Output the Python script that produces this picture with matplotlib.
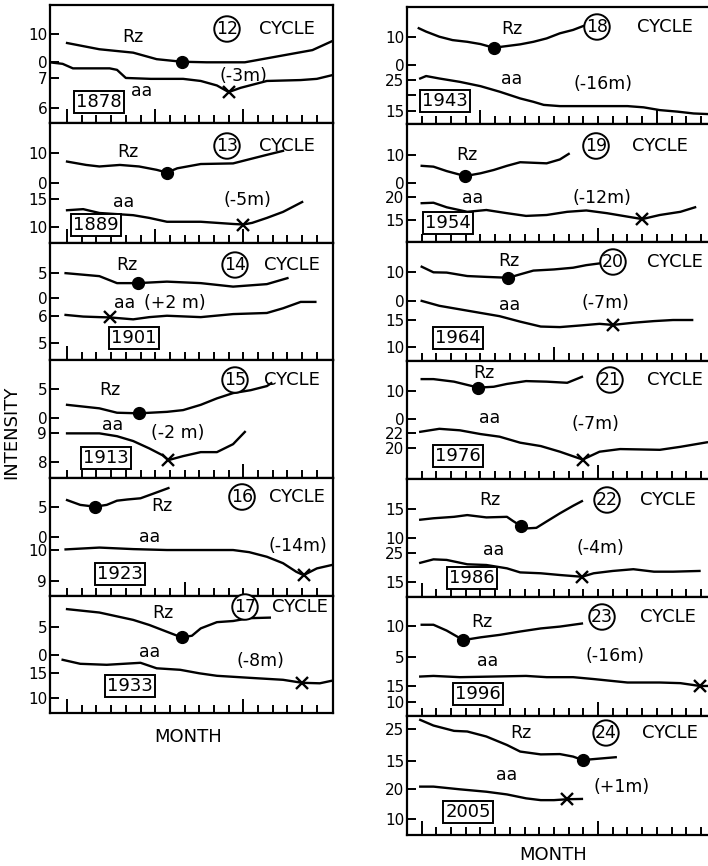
import matplotlib.pyplot as plt

# figure size in pixels (dpi 100)
W, H = 708, 866

# ---- data (x = month index along the bottom ticks) ----
cycles = [12, 13, 14, 15, 16, 17, 18, 19, 20, 21, 22, 23, 24]
years = ['1878', '1889', '1901', '1913', '1923', '1933',
         '1943', '1954', '1964', '1976', '1986', '1996', '2005']
lags = ['(-3m)', '(-5m)', '(+2 m)', '(-2 m)', '(-14m)', '(-8m)',
        '(-16m)', '(-12m)', '(-7m)', '(-7m)', '(-4m)', '(-16m)', '(+1m)']

rz_month = [
    [0, 2.2, 4.5, 6.1, 7.8, 9.5, 12.1, 13.6, 15.2, 16.7, 18.1],
    [0, 1.3, 2.2, 3.6, 4.9, 6.1, 6.8, 7.5, 9.1, 11.3, 12.2, 13.6, 14.7],
    [-0.1, 2.2, 3.4, 4.8, 6.8, 9.1, 11.3, 13.6, 15.0],
    [0, 2.2, 3.4, 4.9, 6.8, 7.9, 9.1, 10.2, 11.3, 12.5, 13.6, 13.9],
    [0, 0.9, 1.9, 2.7, 3.4, 4.1, 5.0, 5.9, 6.9],
    [0, 2.2, 4.5, 5.6, 6.8, 7.8, 8.5, 9.1, 10.2, 11.3, 12.4, 13.8],
    [-0.2, 0.3, 1.2, 2.1, 3.1, 4.0, 4.9, 5.8, 6.7, 7.6, 8.5, 9.4, 10.3, 11.0],
    [0, 0.8, 1.7, 2.95, 4.0, 4.9, 5.8, 6.7, 7.6, 8.5, 9.4, 10.0],
    [0, 0.8, 1.7, 3.1, 4.4, 5.9, 6.7, 7.6, 9.0, 10.3, 11.2, 12.1],
    [0, 0.8, 2.2, 3.85, 4.9, 5.8, 7.1, 8.5, 9.9, 10.9],
    [-0.1, 0.8, 2.2, 3.1, 4.4, 5.8, 6.2, 6.76, 7.1, 7.8, 8.5, 9.4, 10.3, 10.9],
    [0, 0.8, 1.7, 2.83, 4.0, 5.3, 6.7, 8.1, 9.4, 10.9],
    [-0.1, 0.8, 2.2, 3.1, 4.4, 5.8, 6.7, 8.1, 9.4, 10.3, 10.95, 11.7, 13.2],
]
rz_value = [
    [6.8, 4.6, 3.4, 1.1, 0.2, 0.0, 0.0, 1.4, 2.9, 4.3, 7.6],
    [7.1, 6.0, 5.5, 6.0, 5.5, 4.4, 3.5, 4.9, 6.3, 6.5, 7.6, 9.3, 10.6],
    [4.9, 4.3, 2.9, 2.9, 3.2, 2.9, 2.2, 2.7, 3.9],
    [2.3, 1.7, 0.95, 0.85, 1.1, 1.4, 2.3, 3.4, 4.3, 4.8, 5.5, 6.0],
    [6.1, 5.3, 5.0, 5.3, 6.0, 6.2, 6.4, 7.2, 8.1],
    [8.1, 7.5, 6.2, 5.3, 4.1, 3.1, 3.4, 4.7, 5.8, 6.0, 6.5, 6.6],
    [13.0, 11.8, 10.0, 8.8, 8.2, 7.4, 6.1, 6.7, 7.3, 8.2, 9.4, 11.2, 12.4, 13.8],
    [6.1, 5.8, 4.2, 2.4, 3.4, 4.6, 6.1, 7.4, 7.2, 7.0, 8.4, 10.4],
    [11.95, 10.0, 9.9, 8.7, 8.4, 8.1, 9.3, 10.6, 11.0, 11.6, 12.5, 13.1],
    [14.2, 14.2, 13.3, 11.2, 11.5, 12.5, 13.5, 13.3, 12.9, 15.0],
    [13.2, 13.45, 13.7, 14.0, 13.6, 13.7, 13.0, 12.1, 11.7, 11.8, 12.9, 14.3, 15.6, 16.4],
    [10.2, 10.2, 9.25, 7.7, 8.15, 8.55, 9.1, 9.6, 9.9, 10.4],
    [28.0, 26.2, 24.5, 24.3, 22.7, 20.0, 17.9, 17.0, 17.1, 16.3, 15.2, 15.5, 16.1],
]
rz_min = [(7.8, 0.2), (6.8, 3.5), (4.8, 2.9), (4.9, 0.85), (1.9, 5.0), (7.8, 3.1),
          (4.9, 6.1), (2.95, 2.4), (5.9, 8.1), (3.85, 11.2), (6.76, 12.1),
          (2.83, 7.7), (10.95, 15.2)]

aa_month = [
    [-1.16, -0.3, 0.4, 2.9, 3.4, 4.0, 5.7, 7.9, 9.1, 10.2, 11.0, 11.8, 13.6, 15.9, 17.0, 18.1],
    [0, 1.1, 2.2, 4.5, 5.6, 6.8, 9.1, 10.2, 11.3, 12.0, 12.6, 13.6, 14.7, 16.0],
    [-0.1, 1.1, 2.2, 2.9, 4.5, 5.6, 6.8, 9.1, 11.3, 13.6, 14.7, 15.9, 16.9],
    [0, 2.2, 3.4, 4.5, 5.6, 6.5, 6.9, 7.9, 9.1, 10.2, 11.3, 12.1],
    [-0.1, 2.2, 4.5, 6.8, 9.1, 11.3, 12.4, 13.6, 14.7, 15.6, 16.1, 17.0, 18.1],
    [-0.3, 0.9, 2.7, 5.0, 6.1, 7.7, 9.0, 10.2, 12.4, 14.7, 16.0, 17.2, 18.0],
    [-0.1, 0.3, 1.2, 2.6, 4.0, 5.3, 6.7, 7.6, 8.3, 9.4, 11.7, 14.0, 15.1, 16.2, 17.4, 18.5, 19.5],
    [0, 0.8, 1.7, 3.1, 4.4, 5.8, 7.1, 8.5, 9.9, 11.2, 12.6, 15.0, 16.2, 17.6, 18.6],
    [0, 1.2, 2.6, 4.0, 5.3, 6.7, 8.1, 9.4, 10.8, 12.1, 13.0, 14.4, 15.8, 17.1, 18.4],
    [-0.1, 1.2, 2.6, 4.0, 5.3, 6.7, 8.1, 9.4, 10.95, 12.1, 13.5, 14.9, 16.2, 17.6, 19.4],
    [-0.1, 0.8, 1.7, 3.1, 4.4, 5.8, 6.7, 8.1, 9.4, 10.9, 11.7, 13.0, 14.4, 15.8, 17.1, 18.9],
    [-0.1, 0.8, 2.6, 4.9, 7.1, 8.5, 10.3, 11.7, 14.0, 16.2, 17.6, 18.93, 19.8],
    [-0.1, 0.8, 2.6, 4.4, 5.8, 7.1, 8.1, 9.0, 9.9, 10.9],
]
aa_value = [
    [7.53, 7.48, 7.33, 7.33, 7.28, 7.01, 6.98, 6.98, 6.91, 6.76, 6.54, 6.68, 6.91, 6.94, 6.98, 7.11],
    [13.0, 13.2, 12.5, 12.1, 11.6, 10.9, 10.9, 10.7, 10.5, 10.4, 10.7, 11.6, 12.7, 14.5],
    [6.03, 5.97, 5.95, 5.94, 5.87, 5.95, 6.0, 5.95, 6.06, 6.1, 6.27, 6.5, 6.5],
    [9.0, 9.0, 8.9, 8.73, 8.47, 8.23, 8.06, 8.2, 8.34, 8.34, 8.62, 9.05],
    [10.02, 10.08, 10.03, 10.0, 10.0, 10.0, 9.93, 9.78, 9.57, 9.29, 9.18, 9.4, 9.52],
    [17.7, 16.9, 16.7, 17.1, 16.0, 15.7, 15.0, 14.5, 14.1, 13.7, 13.1, 13.0, 13.5],
    [25.5, 26.3, 25.5, 24.4, 23.0, 21.2, 19.0, 17.9, 16.9, 16.5, 16.5, 16.5, 16.1, 15.2, 14.7, 14.1, 13.9],
    [18.7, 18.8, 17.8, 16.8, 17.2, 16.5, 15.9, 16.1, 16.8, 17.1, 16.5, 15.2, 16.1, 16.8, 17.8],
    [18.5, 17.6, 16.95, 16.3, 15.7, 14.7, 13.8, 13.7, 14.0, 14.3, 14.1, 14.5, 14.8, 15.0, 15.0],
    [22.2, 22.6, 22.4, 21.9, 21.55, 20.75, 20.3, 19.55, 18.5, 19.55, 19.9, 19.85, 19.8, 20.2, 20.8],
    [21.5, 22.7, 22.5, 21.0, 20.75, 19.6, 18.2, 17.9, 17.3, 16.7, 17.9, 18.7, 19.3, 18.45, 18.45, 18.7],
    [18.0, 18.2, 17.8, 18.0, 18.2, 17.8, 17.8, 17.2, 16.1, 16.1, 15.9, 15.0, 15.0],
    [20.9, 20.9, 20.0, 19.2, 18.3, 17.0, 16.4, 16.4, 16.7, 16.8],
]
aa_min = [(11.0, 6.54), (12.0, 10.4), (2.9, 5.94), (6.9, 8.06), (16.1, 9.18), (16.0, 13.1),
          None, (15.0, 15.2), (13.0, 14.1), (10.95, 18.5), (10.9, 16.7),
          (18.93, 15.0), (9.9, 16.7)]

rz_ticks = [[0, 10], [0, 10], [0, 5], [0, 5], [0, 5], [0, 5], [0, 10],
            [0, 10], [0, 10], [0, 10], [10, 15], [5, 10], [15, 25]]
aa_ticks = [[6, 7], [10, 15], [5, 6], [8, 9], [9, 10], [10, 15], [15, 20, 25],
            [15, 20], [10, 15], [20, 22], [15, 25], [10, 15], [10, 20]]
aa_ticklabels = [['6', '7'], ['10', '15'], ['5', '6'], ['8', '9'], ['9', '10'],
                 ['10', '15'], ['15', '', '25'], ['15', '20'], ['10', '15'],
                 ['20', '22'], ['15', '25'], ['10', '15'], ['10', '20']]

# ---- layout (pixels) ----
cols = [(50, 333, -1.16, 18.1, 18), (407, 712, -1.0, 19.75, 20)]
tops = [5, 123, 243, 360, 478, 596, 7, 124, 242, 361, 479, 597, 716]
bottoms = [123, 243, 360, 478, 596, 713, 124, 242, 361, 479, 597, 716, 835]
rz_lim = [(-21.4, 20.2), (-19.5, 19.7), (-12.5, 10.94), (-10.19, 9.95), (-9.88, 9.78),
          (-10.25, 10.42), (-20.85, 20.5), (-21.4, 21.2), (-20.9, 20.56), (-21.1, 20.6),
          (-0.12, 20.22), (-4.66, 14.72), (-8.7, 29.24)]
aa_lim = [(5.51, 9.44), (7.03, 28.9), (4.4, 8.63), (7.43, 11.58), (8.5, 12.35),
          (7.06, 30.46), (10.67, 48.8), (10.15, 36.15), (7.49, 29.29), (15.91, 31.64),
          (9.72, 50.4), (5.45, 43.3), (4.8, 44.4)]
long_ticks = [[0, 6, 12], [0, 6, 12], [0], [12], [8], [0, 12], [4, 16],
              [12], [9], [12], [0], [12], [0, 12]]

year_xy = [(99, 102), (96, 225), (134, 338), (106, 458), (120, 574), (130, 686),
           (445, 101), (448, 223), (458, 338), (458, 456), (472, 578), (478, 694), (468, 812)]
rz_xy = [(133, 37), (128, 152), (127, 265), (110, 390), (162, 506), (163, 613),
         (512, 29), (467, 155), (509, 261), (484, 373), (490, 500), (482, 622), (521, 733)]
aa_xy = [(142, 91), (124, 202), (125, 303), (113, 425), (150, 537), (150, 652),
         (512, 79), (473, 198), (510, 305), (490, 418), (494, 550), (488, 661), (507, 775)]
lag_xy = [(243, 76), (247, 200), (175, 303), (178, 433), (298, 546), (260, 661),
          (603, 84), (602, 198), (605, 303), (595, 424), (600, 548), (615, 656), (622, 787)]
circ_xy = [(227, 29), (227, 146), (235, 265), (235, 380), (242, 497), (245, 607),
           (597, 27), (596, 146), (613, 262), (610, 380), (607, 500), (602, 617), (606, 733)]
cycle_xy = [(287, 29), (287, 146), (292, 265), (292, 380), (297, 497), (300, 607),
            (665, 27), (660, 146), (675, 262), (675, 380), (668, 500), (668, 617), (670, 733)]

plt.rcParams['font.family'] = ['DejaVu Sans']

fig = plt.figure(figsize=(W / 100, H / 100), dpi=100)


def ftext(xy, s, **kw):
    fig.text(xy[0] / W, 1 - xy[1] / H, s, ha='center', va='center', **kw)


for i in range(13):
    L, R, x0, x1, nt = cols[0] if i < 6 else cols[1]
    T, B = tops[i], bottoms[i]
    rect = [L / W, 1 - B / H, (R - L) / W, (B - T) / H]

    # aa axes carries the frame and month ticks
    ax = fig.add_axes(rect)
    ax.set_xlim(x0, x1)
    ax.set_ylim(aa_lim[i])
    ax.plot(aa_month[i], aa_value[i], 'k-', lw=1.7)
    if aa_min[i] is not None:
        ax.plot(*aa_min[i], 'kx', ms=9, mew=1.7)
    for s in ax.spines.values():
        s.set_linewidth(1.6)
    ax.set_xticks(long_ticks[i])
    ax.set_xticks([k for k in range(nt) if k not in long_ticks[i]], minor=True)
    ax.tick_params(axis='x', which='major', direction='in', length=10, width=1.4, labelbottom=False)
    ax.tick_params(axis='x', which='minor', direction='in', length=5.8, width=1.4)
    ax.set_yticks(aa_ticks[i])
    ax.set_yticklabels(aa_ticklabels[i])
    ax.tick_params(axis='y', direction='in', length=6.5, width=1.4, labelsize=11, pad=2)

    # Rz axes on top, same box, own scale
    ax2 = fig.add_axes(rect, sharex=ax)
    ax2.patch.set_visible(False)
    for s in ax2.spines.values():
        s.set_visible(False)
    ax2.set_ylim(rz_lim[i])
    ax2.plot(rz_month[i], rz_value[i], 'k-', lw=1.7)
    ax2.plot(*rz_min[i], 'ko', ms=8.5)
    ax2.set_yticks(rz_ticks[i])
    ax2.tick_params(axis='y', direction='in', length=6.5, width=1.4, labelsize=11, pad=2)
    ax2.tick_params(axis='x', which='both', bottom=False, labelbottom=False)

    ftext(year_xy[i], years[i], fontsize=13, zorder=10,
          bbox=dict(boxstyle='square,pad=0.1', fc='white', ec='black', lw=1.4))
    ftext(rz_xy[i], 'Rz', fontsize=12.5)
    ftext(aa_xy[i], 'aa', fontsize=12.5)
    ftext(lag_xy[i], lags[i], fontsize=12.5)
    ftext(circ_xy[i], str(cycles[i]), fontsize=12.5,
          bbox=dict(boxstyle='circle,pad=0.1', fc='white', ec='black', lw=1.4))
    ftext(cycle_xy[i], 'CYCLE', fontsize=13)

ftext((11, 432), 'INTENSITY', fontsize=13, rotation=90)
ftext((188, 737), 'MONTH', fontsize=13)
ftext((553, 855), 'MONTH', fontsize=13)

plt.savefig('out.png', dpi=100)
